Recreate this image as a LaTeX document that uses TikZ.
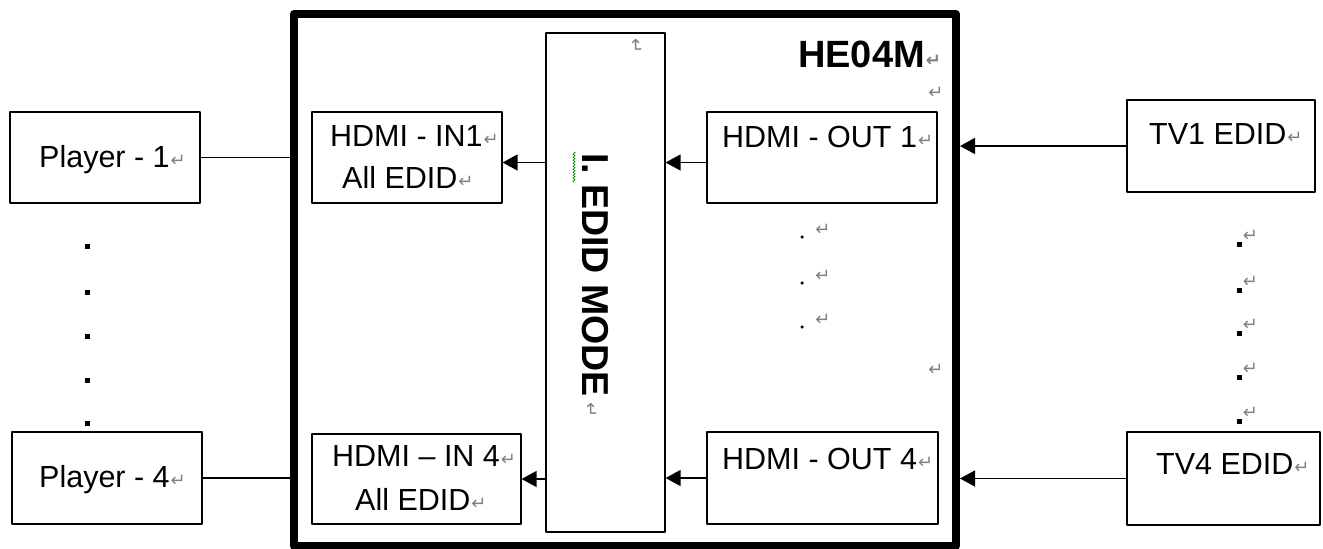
\documentclass[tikz,border=0pt]{standalone}
\usepackage{fontspec}
\setmainfont{Liberation Sans}
\newfontfamily\symfont{DejaVu Sans}
\usetikzlibrary{arrows.meta,decorations.pathmorphing}

\newcommand{\rmk}{\hspace{1pt}\raisebox{1pt}{\symfont\fontsize{18}{18}\selectfont\color{gray}↵}}

\tikzset{
  box/.style={draw, line width=1.2pt, inner sep=0pt},
  txt/.style={font=\fontsize{30.5}{36}\selectfont, inner sep=0pt, anchor=base west},
  link/.style={line width=1.2pt},
  feed/.style={line width=1.5pt, -{Triangle[length=15pt,width=16pt]}},
  sq/.style={fill, inner sep=0pt, minimum size=5pt},
  ret/.style={inner sep=0pt, text=gray, font=\symfont\fontsize{18}{18}\selectfont},
}

\begin{document}
\begin{tikzpicture}[x=1pt, y=-1pt, line cap=round, line join=round]
  \useasboundingbox (0,0) rectangle (1323,549);
  % --- device frame ---
  \node[box, line width=8pt, minimum width=662pt, minimum height=532pt] (he) at (625,280) {};
  \node[txt, font=\bfseries\fontsize{38}{40}\selectfont] (het) at (798,67) {HE04M\rmk};
  \node[ret] (r1) at (936,93) {↵};
  \node[ret] (r2) at (936,370) {↵};
  % --- players ---
  \node[box, minimum width=190pt, minimum height=91pt] (p1) at (105,157.5) {};
  \node[txt] (p1t) at (39,167) {Player - 1\rmk};
  \node[box, minimum width=190pt, minimum height=92pt] (p4) at (107,478) {};
  \node[txt] (p4t) at (39,487) {Player - 4\rmk};
  \foreach \y in {246,292,336,380,423}
    \node[sq] (ld\y) at (87,\y) {};
  \draw[link] (p1.east) -- (p1.east -| he.west);
  \draw[link] (p4.east) -- (p4.east -| he.west);
  % --- inputs ---
  \node[box, minimum width=190pt, minimum height=91pt] (in1) at (407,157.5) {};
  \node[txt] (in1a) at (330,146) {HDMI - IN1\rmk};
  \node[txt] (in1b) at (342,188) {All EDID\rmk};
  \node[box, minimum width=209pt, minimum height=90pt] (in4) at (416.5,479) {};
  \node[txt] (in4a) at (332,466) {HDMI -- IN 4\rmk};
  \node[txt] (in4b) at (355,510) {All EDID\rmk};
  % --- edid mode ---
  \node[box, minimum width=119pt, minimum height=499pt] (mode) at (605.5,282.5) {};
  \node[txt, font=\bfseries\fontsize{37.5}{40}\selectfont, rotate=-90] (modet) at (582,153) {I. EDID MODE};
  \node[ret, rotate=-90] (r3) at (636,46) {↵};
  \node[ret, rotate=-90] (r4) at (591,410) {↵};
  \draw[green!55!black, line width=0.6pt, decorate, decoration={zigzag, amplitude=1.2pt, segment length=3pt}] (574,152) -- (574,182);
  % --- outputs ---
  \node[box, minimum width=230pt, minimum height=91pt] (out1) at (822,157.5) {};
  \node[txt] (out1t) at (722,147) {HDMI - OUT 1\rmk};
  \node[box, minimum width=231pt, minimum height=92pt] (out4) at (822.5,478) {};
  \node[txt] (out4t) at (722,469) {HDMI - OUT 4\rmk};
  \foreach \y in {237,283,327} {
    \node[fill, circle, inner sep=0pt, minimum size=3.5pt] (md\y) at (802,\y) {};
    \node[ret] at (823,\y-7) {↵};
  }
  % --- internal arrows ---
  \draw[feed] ([yshift=-5pt]in1.east -| mode.west) -- ([yshift=-5pt]in1.east);
  \draw[feed] ([yshift=-5pt]out1.west) -- ([yshift=-5pt]out1.west -| mode.east);
  \draw[feed] (in4.east -| mode.west) -- (in4.east);
  \draw[feed] (out4.west) -- (out4.west -| mode.east);
  % --- displays ---
  \node[box, minimum width=188pt, minimum height=92pt] (tv1) at (1221,146) {};
  \node[txt] (tv1t) at (1149,144) {TV1 EDID\rmk};
  \node[box, minimum width=193pt, minimum height=93pt] (tv4) at (1223.5,478.5) {};
  \node[txt] (tv4t) at (1156,474) {TV4 EDID\rmk};
  \foreach \y in {244,290,333,377,421} {
    \node[sq] (rd\y) at (1239,\y) {};
    \node[ret, anchor=south west] at ([xshift=1pt]rd\y.north east) {↵};
  }
  \draw[feed] (tv1.west) -- (tv1.west -| he.east);
  \draw[feed] (tv4.west) -- (tv4.west -| he.east);
\end{tikzpicture}
\end{document}
